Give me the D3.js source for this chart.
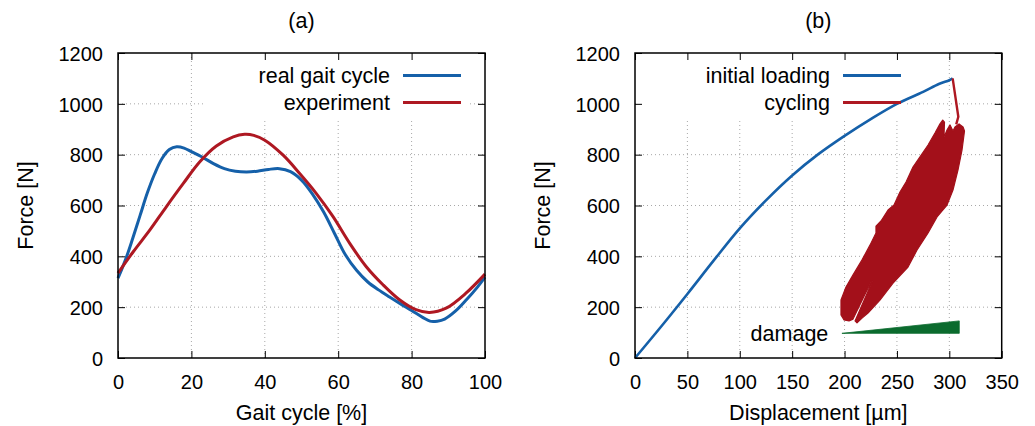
<!DOCTYPE html>
<html>
<head>
<meta charset="utf-8">
<script src="https://cdn.jsdelivr.net/npm/d3@7"></script>
<style>
  body { margin: 0; background: #fff; }
  text { font-family: "Liberation Sans", Arial, Helvetica, sans-serif; fill: #000; }
</style>
</head>
<body>
<svg id="chart" width="1035" height="426"></svg>
<script>
// ---- Panel (a): force over the gait cycle ----
const realPct   = [0, 2, 4, 6, 8, 10, 12, 14, 16, 18, 20, 23, 26, 29, 32, 35, 38, 41, 44, 47, 50, 53, 56, 59, 62, 65, 68, 71, 74, 77, 80, 83, 85, 87, 89, 92, 95, 98, 100];
const realForce = [314, 385, 470, 560, 650, 725, 785, 820, 831, 826, 812, 790, 765, 745, 735, 732, 735, 742, 745, 733, 700, 645, 575, 490, 405, 345, 300, 268, 240, 213, 187, 160, 145, 145, 153, 185, 230, 280, 318];

const expPct    = [0, 4.2, 8.7, 13.2, 17.8, 22.3, 26.8, 31.4, 34.5, 37, 40, 45, 49.5, 54, 58.6, 63.1, 67.6, 72.2, 76.7, 81.2, 84.9, 89.4, 94.8, 100];
const expForce  = [334, 419, 504, 596, 687, 772, 834, 870, 880, 876, 857, 798, 726, 648, 556, 452, 360, 288, 229, 190, 179, 196, 255, 330];

const gaitTicks  = [0, 20, 40, 60, 80, 100];
const forceTicks = [0, 200, 400, 600, 800, 1000, 1200];

// ---- Panel (b): force over displacement ----
const loadDisp  = [0, 25, 50, 75, 100, 125, 150, 175, 200, 225, 250, 275, 290, 300, 303.2];
const loadForce = [0, 124, 252, 383, 510, 620, 718, 802, 874, 940, 1000, 1047, 1078, 1093, 1100];

// drop from the end of loading into the cycling band
const dropDisp  = [303.2, 308.6, 306.6];
const dropForce = [1100, 949, 919];

// outline of the band swept by the load cycles
const cycleDisp  = [293.7, 295.4, 294.9, 297.8, 300.7, 303.5, 305.4, 309.3, 313.1, 314.5, 312.1, 308.3, 303.5, 297.8, 288.3, 279.7, 269.2, 260.6, 246.3, 233.8, 222.4, 216.7, 211.9, 210.0, 226.7, 225.7, 208.1, 204.3, 199.5, 196.6, 196.6, 201.4, 208.1, 216.7, 224.4, 230.0, 230.0, 234.8, 241.5, 247.2, 252.9, 258.7, 265.3, 272.0, 279.7, 286.3, 291.1];
const cycleForce = [936, 928, 869, 897, 917, 893, 909, 921, 909, 893, 818, 740, 661, 602, 555, 492, 425, 358, 295, 228, 177, 157, 138, 146, 303, 303, 153, 146, 150, 169, 228, 279, 327, 386, 445, 492, 519, 539, 582, 602, 653, 692, 751, 791, 838, 885, 921];

// growing damage wedge
const damageDisp  = [197.5, 309.5, 309.5];
const damageForce = [97, 97, 146];

const dispTicks = [0, 50, 100, 150, 200, 250, 300, 350];

const blue = "#1560a9", red = "#ae1822", bandRed = "#a3101a", green = "#0b6b2e";

const svg = d3.select("#chart");
const plotTop = 53, plotBottom = 358;

function panel(opts) {
  const g = svg.append("g");
  const x = d3.scaleLinear().domain(opts.xDomain).range([opts.left, opts.right]);
  const y = d3.scaleLinear().domain([0, 1200]).range([plotBottom, plotTop]);

  // dotted grid
  const grid = g.append("g").attr("stroke", "#a8a8a8").attr("stroke-width", 1).attr("stroke-dasharray", "1,3");
  opts.xTicks.slice(1, -1).forEach(v => grid.append("line")
    .attr("x1", x(v)).attr("x2", x(v)).attr("y1", plotTop).attr("y2", plotBottom));
  forceTicks.slice(1, -1).forEach(v => grid.append("line")
    .attr("x1", opts.left).attr("x2", opts.right).attr("y1", y(v)).attr("y2", y(v)));

  // key background
  g.append("rect").attr("x", opts.keyBox[0]).attr("y", plotTop).attr("width", opts.keyBox[1] - opts.keyBox[0])
    .attr("height", 118 - plotTop).attr("fill", "#fff");

  // axes with inward ticks on all four sides
  const fmt = d3.format("d");
  const ax = (a, tv) => a.tickValues(tv).tickSizeInner(-7).tickSizeOuter(0).tickFormat(fmt);
  const gx = g.append("g").attr("transform", `translate(0,${plotBottom})`)
    .call(ax(d3.axisBottom(x), opts.xTicks).tickPadding(17));
  const gy = g.append("g").attr("transform", `translate(${opts.left},0)`)
    .call(ax(d3.axisLeft(y), forceTicks).tickPadding(15));
  const gt = g.append("g").attr("transform", `translate(0,${plotTop})`)
    .call(ax(d3.axisTop(x), opts.xTicks).tickFormat(""));
  const gr = g.append("g").attr("transform", `translate(${opts.right},0)`)
    .call(ax(d3.axisRight(y), forceTicks).tickFormat(""));
  [gx, gy, gt, gr].forEach(a => {
    a.select(".domain").remove();
    a.selectAll("line").attr("stroke", "#000");
    a.selectAll("text").attr("font-size", 20).style("font-family", '"Liberation Sans", Arial, sans-serif').attr("fill", "#000");
  });
  gy.selectAll("text").attr("dy", "0.36em");

  opts.draw(g, x, y);

  // frame
  g.append("rect").attr("x", opts.left).attr("y", plotTop)
    .attr("width", opts.right - opts.left).attr("height", plotBottom - plotTop)
    .attr("fill", "none").attr("stroke", "#000").attr("stroke-width", 1.5);

  const cx = (opts.left + opts.right) / 2;
  g.append("text").attr("x", cx).attr("y", 28).attr("text-anchor", "middle")
    .attr("font-size", 21.5).text(opts.title);
  g.append("text").attr("x", cx).attr("y", 420).attr("text-anchor", "middle")
    .attr("font-size", 21.5).text(opts.xLabel);
  g.append("text").attr("transform", `translate(${opts.left - 85},${(plotTop + plotBottom) / 2}) rotate(-90)`)
    .attr("text-anchor", "middle").attr("font-size", 21.5).text("Force [N]");

  // key
  opts.key.forEach((k, i) => {
    const ky = 75.5 + i * 27;
    g.append("text").attr("x", opts.keyText).attr("y", ky).attr("dy", "0.35em")
      .attr("text-anchor", "end").attr("font-size", 21.5).text(k.label);
    g.append("line").attr("x1", opts.keyText + 13).attr("x2", opts.keyText + 71)
      .attr("y1", ky).attr("y2", ky).attr("stroke", k.color).attr("stroke-width", 3);
  });
}

const lineOf = (xs, ys, x, y, curve) => d3.line().x((d, i) => x(xs[i])).y((d, i) => y(ys[i])).curve(curve)(xs);

panel({
  left: 118, right: 485, xDomain: [0, 100], xTicks: gaitTicks,
  title: "(a)", xLabel: "Gait cycle [%]", keyBox: [203, 469], keyText: 390,
  key: [{ label: "real gait cycle", color: blue }, { label: "experiment", color: red }],
  draw(g, x, y) {
    g.append("path").attr("d", lineOf(realPct, realForce, x, y, d3.curveCatmullRom))
      .attr("fill", "none").attr("stroke", blue).attr("stroke-width", 3);
    g.append("path").attr("d", lineOf(expPct, expForce, x, y, d3.curveCatmullRom))
      .attr("fill", "none").attr("stroke", red).attr("stroke-width", 3);
  }
});

panel({
  left: 635, right: 1001.7, xDomain: [0, 350], xTicks: dispTicks,
  title: "(b)", xLabel: "Displacement [µm]", keyBox: [636, 905], keyText: 830,
  key: [{ label: "initial loading", color: blue }, { label: "cycling", color: red }],
  draw(g, x, y) {
    g.append("path").attr("d", lineOf(loadDisp, loadForce, x, y, d3.curveCatmullRom))
      .attr("fill", "none").attr("stroke", blue).attr("stroke-width", 2.6);
    g.append("path").attr("d", lineOf(dropDisp, dropForce, x, y, d3.curveLinear))
      .attr("fill", "none").attr("stroke", red).attr("stroke-width", 2.4);
    g.append("path").attr("d", lineOf(cycleDisp, cycleForce, x, y, d3.curveLinearClosed))
      .attr("fill", bandRed).attr("stroke", bandRed).attr("stroke-width", 1.2).attr("stroke-linejoin", "round");
    g.append("path").attr("d", lineOf(damageDisp, damageForce, x, y, d3.curveLinearClosed))
      .attr("fill", green).attr("stroke", green).attr("stroke-width", 0.8);
    g.append("text").attr("x", x(184.5)).attr("y", y(97)).attr("dy", "0.35em")
      .attr("text-anchor", "end").attr("font-size", 21.5).text("damage");
  }
});
</script>
</body>
</html>
